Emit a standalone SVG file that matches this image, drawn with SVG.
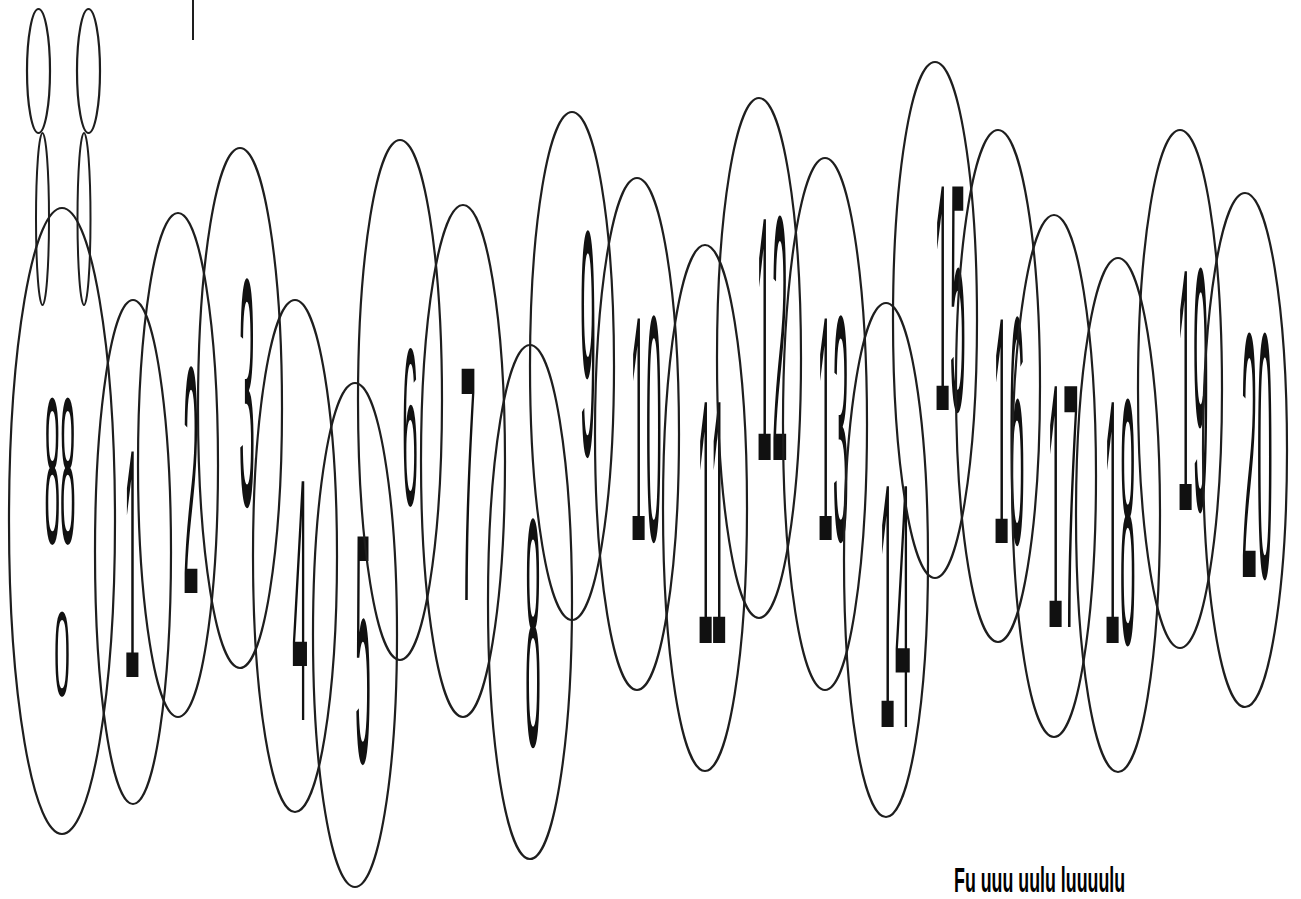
<svg xmlns="http://www.w3.org/2000/svg" width="1301" height="899" viewBox="0 0 1301 899">
<style>
.n{fill:none;stroke:#1e1e1e;stroke-width:2.2}
.c{fill:none;stroke:#1e1e1e;stroke-width:2}
.t{font-family:"Liberation Sans",Arial,sans-serif;font-size:28px;fill:#111;text-anchor:middle}
.cap{font-family:"Liberation Sans",Arial,sans-serif;font-size:13px;fill:#000;font-weight:bold}
</style>
<rect width="1301" height="899" fill="#fff"/>
<g id="connectors">
<line class="c" x1="193" y1="0" x2="193" y2="40"/>
<ellipse class="c" cx="42.5" cy="219" rx="6.5" ry="86"/>
<ellipse class="c" cx="84" cy="219" rx="6.5" ry="86"/>
</g>
<g id="top-left-a"><ellipse class="n" cx="38.5" cy="71" rx="11.5" ry="62"/></g>
<g id="top-left-b"><ellipse class="n" cx="88.5" cy="71" rx="11.5" ry="62"/></g>
<g id="node-0">
<ellipse class="n" cx="62" cy="521" rx="53" ry="313"/>
<text class="t" transform="translate(60,543) scale(1,7.4)">88</text>
<text class="t" transform="translate(62,696) scale(1,4.3)">0</text>
</g>
<g id="node-1"><ellipse class="n" cx="133" cy="552" rx="38" ry="252"/><text class="t" transform="translate(132,677) scale(1,11.7)">1</text></g>
<g id="node-2"><ellipse class="n" cx="178" cy="465" rx="40" ry="252"/><text class="t" transform="translate(191,593) scale(1,11.6)">2</text></g>
<g id="node-3"><ellipse class="n" cx="240" cy="408" rx="42" ry="260"/><text class="t" transform="translate(247,505) scale(1,11.6)">3</text></g>
<g id="node-4"><ellipse class="n" cx="295" cy="556" rx="42" ry="256"/><text class="t" transform="translate(300,720) scale(1,12.4)">4</text></g>
<g id="node-5"><ellipse class="n" cx="355" cy="635" rx="42" ry="252"/><text class="t" transform="translate(363,762) scale(1,11.7)">5</text></g>
<g id="node-6"><ellipse class="n" cx="400" cy="400" rx="42" ry="260"/><text class="t" transform="translate(410,505) scale(1,8)">6</text></g>
<g id="node-7"><ellipse class="n" cx="463" cy="461" rx="42" ry="256"/><text class="t" transform="translate(468,600) scale(1,12)">7</text></g>
<g id="node-8"><ellipse class="n" cx="530" cy="602" rx="42" ry="257"/><text class="t" transform="translate(533,745) scale(1,11.6)">8</text></g>
<g id="node-9"><ellipse class="n" cx="572" cy="366" rx="42" ry="254"/><text class="t" transform="translate(588,455) scale(1,11.5)">9</text></g>
<g id="node-10"><ellipse class="n" cx="637" cy="434" rx="42" ry="256"/><text class="t" transform="translate(646,540) scale(1,11.5)">10</text></g>
<g id="node-11"><ellipse class="n" cx="705" cy="508" rx="42" ry="263"/><text class="t" transform="translate(712,643) scale(1,12.5)">11</text></g>
<g id="node-12"><ellipse class="n" cx="759" cy="358" rx="42" ry="260"/><text class="t" transform="translate(772,460) scale(1,12.5)">12</text></g>
<g id="node-13"><ellipse class="n" cx="825" cy="424" rx="42" ry="266"/><text class="t" transform="translate(833,540) scale(1,11.5)">13</text></g>
<g id="node-14"><ellipse class="n" cx="886" cy="560" rx="42" ry="257"/><text class="t" transform="translate(895,727) scale(1,12.5)">14</text></g>
<g id="node-15"><ellipse class="n" cx="935" cy="320" rx="42" ry="258"/><text class="t" transform="translate(950,410) scale(1,11.6)">15</text></g>
<g id="node-16"><ellipse class="n" cx="998" cy="386" rx="42" ry="256"/><text class="t" transform="translate(1009,543) scale(1,11.6)">16</text></g>
<g id="node-17"><ellipse class="n" cx="1054" cy="476" rx="42" ry="261"/><text class="t" transform="translate(1063,627) scale(1,12.5)">17</text></g>
<g id="node-18"><ellipse class="n" cx="1118" cy="515" rx="42" ry="257"/><text class="t" transform="translate(1120,643) scale(1,12.5)">18</text></g>
<g id="node-19"><ellipse class="n" cx="1180" cy="389" rx="42" ry="259"/><text class="t" transform="translate(1193,510) scale(1,12.4)">19</text></g>
<g id="node-20"><ellipse class="n" cx="1245" cy="450" rx="42" ry="257"/><text class="t" transform="translate(1257,577) scale(1,12.5)">20</text></g>
<g id="caption"><text class="cap" transform="translate(954,892) scale(1.37,2.7)">Fu uuu uulu luuuulu</text></g>
</svg>
